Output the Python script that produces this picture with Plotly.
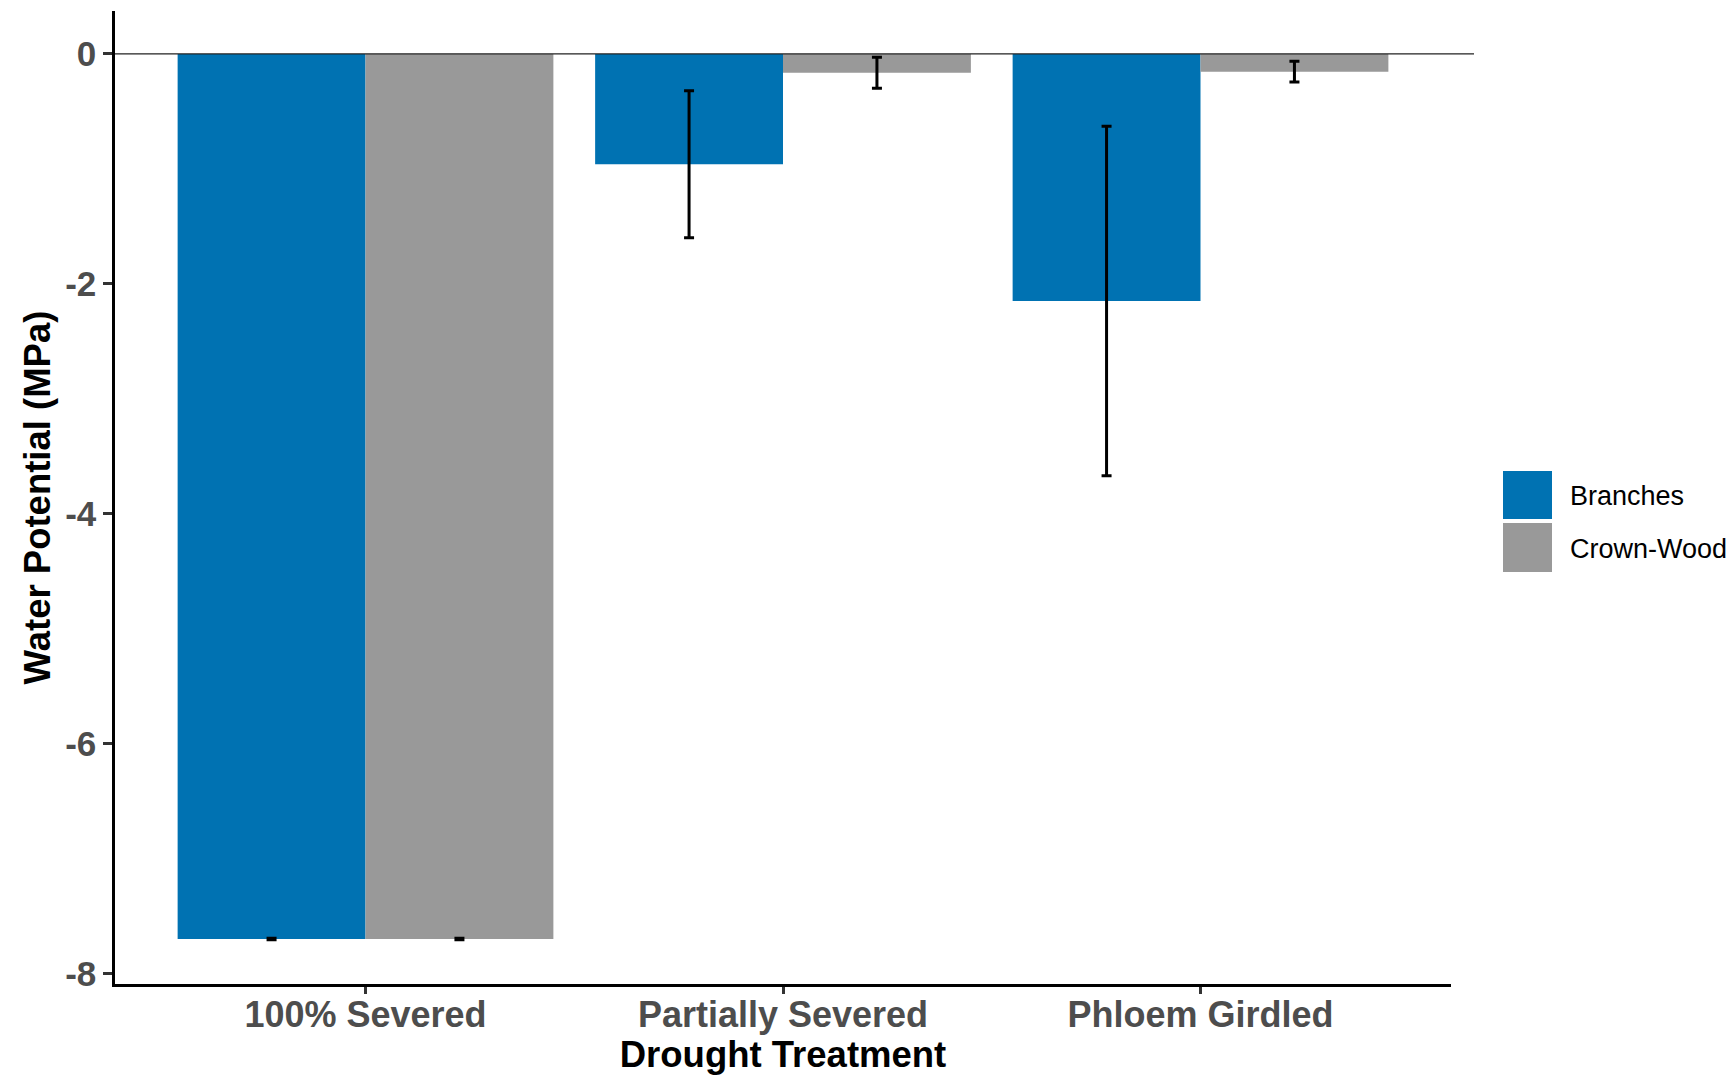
import plotly.graph_objects as go

# ---- data ----
treatments = ["100% Severed", "Partially Severed", "Phloem Girdled"]
branches_mean = [-7.70, -0.96, -2.15]
branches_err = [0.006, 0.64, 1.52]
crown_mean = [-7.70, -0.165, -0.155]
crown_err = [0.006, 0.135, 0.09]
y_ticks = [0, -2, -4, -6, -8]
series_names = ["Branches", "Crown-Wood"]
series_colors = ["#0072B2", "#999999"]

W, H = 1733, 1075
L, R, T, B = 115, 282, 11, 91
pw = W - L - R
ph = H - T - B

def px2paper_x(px):
    return (px - L) / pw

def px2paper_y(py):
    return (H - B - py) / ph

xs = list(range(len(treatments)))
err_style = dict(type="data", color="black", thickness=3, width=5)

fig = go.Figure()
fig.add_trace(go.Bar(
    x=xs, y=branches_mean, name=series_names[0],
    marker=dict(color=series_colors[0], line=dict(width=0)),
    error_y=dict(array=branches_err, **err_style),
    showlegend=False,
))
fig.add_trace(go.Bar(
    x=xs, y=crown_mean, name=series_names[1],
    marker=dict(color=series_colors[1], line=dict(width=0)),
    error_y=dict(array=crown_err, **err_style),
    showlegend=False,
))

# zero reference line (extends slightly past the panel like the original)
shapes = [dict(type="line", xref="paper", yref="y", x0=0, x1=px2paper_x(1474),
               y0=0, y1=0, line=dict(color="#222222", width=1.3), layer="above")]

# manual legend
key_boxes = [(471, 519), (523, 572)]
annotations = []
for (ytop, ybot), name, col in zip(key_boxes, series_names, series_colors):
    shapes.append(dict(type="rect", xref="paper", yref="paper",
                       x0=px2paper_x(1503), x1=px2paper_x(1552),
                       y0=px2paper_y(ybot), y1=px2paper_y(ytop),
                       fillcolor=col, line=dict(width=0)))
    annotations.append(dict(xref="paper", yref="paper", x=px2paper_x(1568),
                            y=px2paper_y((ytop + ybot) / 2 + 1), text=name,
                            showarrow=False, xanchor="left", yanchor="middle",
                            font=dict(family="Liberation Sans, Arial", size=27, color="black")))

xtick_font = dict(family="Liberation Sans, Arial", size=36, color="#4D4D4D", weight="bold")
ytick_font = dict(family="Liberation Sans, Arial", size=35, color="#4D4D4D", weight="bold")
title_font = dict(family="Liberation Sans, Arial", size=36.5, color="black", weight="bold")

fig.update_layout(
    template="none",
    width=W, height=H,
    margin=dict(l=L, r=R, t=T, b=B, pad=0, autoexpand=False),
    plot_bgcolor="white", paper_bgcolor="white",
    barmode="group", bargap=0.1, bargroupgap=0,
    shapes=shapes, annotations=annotations,
    xaxis=dict(
        range=[-0.6, 2.6], tickmode="array", tickvals=xs, ticktext=treatments,
        showgrid=False, zeroline=False, automargin=False,
        showline=True, linecolor="black", linewidth=2.5,
        ticks="outside", ticklen=7, tickwidth=2.5, tickcolor="#333333",
        tickfont=xtick_font, ticklabelstandoff=-10,
        title=dict(text="Drought Treatment", font=title_font, standoff=16),
    ),
    yaxis=dict(
        range=[-8.091, 0.373], tickmode="array", tickvals=y_ticks,
        ticktext=[str(v) for v in y_ticks],
        showgrid=False, zeroline=False, automargin=False,
        showline=True, linecolor="black", linewidth=2.5,
        ticks="outside", ticklen=9, tickwidth=2.5, tickcolor="#333333",
        tickfont=ytick_font,
        title=dict(text="Water Potential (MPa)", font=title_font, standoff=4),
    ),
)

fig.write_html("out.html")
